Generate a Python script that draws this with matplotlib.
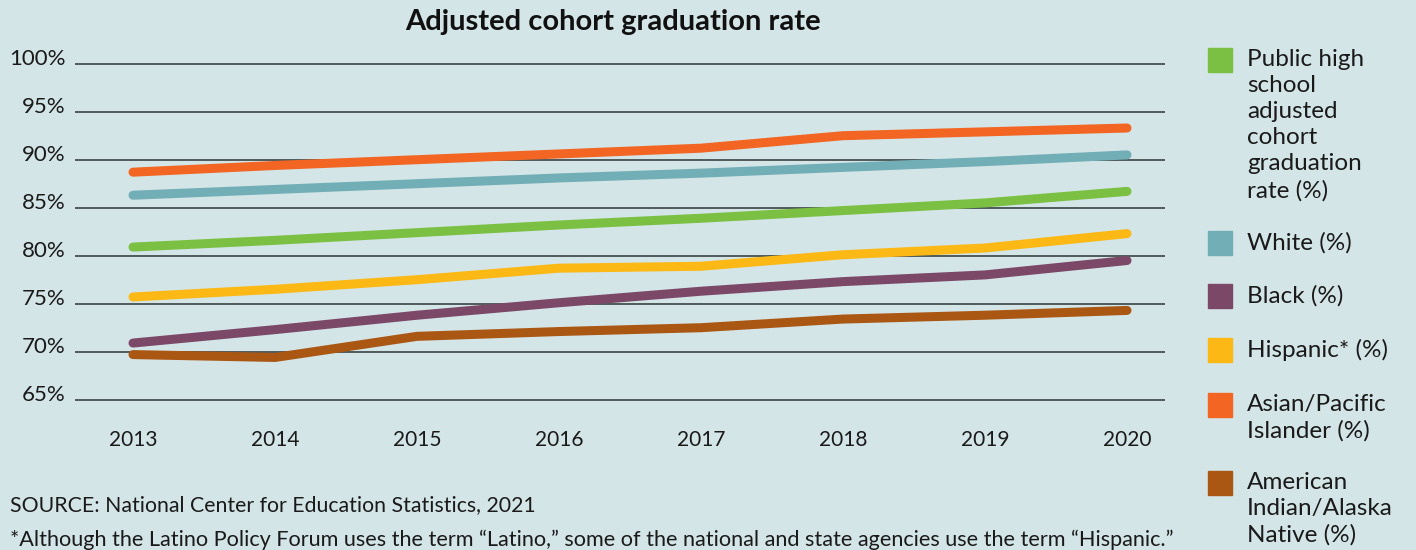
import matplotlib.pyplot as plt
from matplotlib.patches import Rectangle
from matplotlib.transforms import ScaledTranslation

plt.rcParams['font.family'] = ['Lato', 'DejaVu Sans']

years = [2013, 2014, 2015, 2016, 2017, 2018, 2019, 2020]
overall = [80.9, 81.6, 82.4, 83.2, 83.9, 84.7, 85.5, 86.7]
white = [86.3, 86.9, 87.5, 88.1, 88.6, 89.2, 89.8, 90.5]
black = [70.9, 72.3, 73.8, 75.1, 76.3, 77.3, 78.0, 79.5]
hispanic = [75.7, 76.5, 77.5, 78.7, 78.9, 80.1, 80.8, 82.3]
asian = [88.7, 89.4, 90.0, 90.6, 91.2, 92.5, 92.9, 93.3]
native = [69.7, 69.4, 71.6, 72.1, 72.5, 73.4, 73.8, 74.3]

series = [overall, white, black, hispanic, asian, native]
labels = ['Public high\nschool\nadjusted\ncohort\ngraduation\nrate (%)',
          'White (%)', 'Black (%)', 'Hispanic* (%)',
          'Asian/Pacific\nIslander (%)', 'American\nIndian/Alaska\nNative (%)']
colors = ['#7bc043', '#72aeb6', '#7b4868', '#fcb814', '#f26522', '#ab5714']
yticks = [65, 70, 75, 80, 85, 90, 95, 100]

bg = '#d4e5e7'
fig = plt.figure(figsize=(14.16, 5.5), dpi=100, facecolor=bg)
ax = fig.add_axes([75 / 1416, 1 - 404.5 / 550, 1090 / 1416, 345.6 / 550])
ax.set_facecolor(bg)

for vals, c in zip(series, colors):
    ax.plot(years, vals, color=c, lw=6.5, solid_capstyle='round',
            solid_joinstyle='round', zorder=3)

ax.set_ylim(64.5, 100.5)
ax.set_xlim(2013 - 58 / 142, 2020 + 38 / 142)
ax.set_yticks(yticks)
ax.set_yticklabels(['{}%'.format(v) for v in yticks])
ax.set_xticks(years)
ax.set_xticklabels([str(y) for y in years])
ax.grid(axis='y', color='#3a4242', lw=1.2, zorder=1)
ax.tick_params(length=0, labelsize=15, colors='#1a1a1a')
ax.tick_params(axis='y', pad=7, labelsize=16)
ax.tick_params(axis='x', pad=18)
for lab in ax.get_yticklabels():
    lab.set_transform(lab.get_transform() + ScaledTranslation(0, 7 / 100, fig.dpi_scale_trans))
for s in ax.spines.values():
    s.set_visible(False)

fig.text(613 / 1416, 1 - 22 / 550, 'Adjusted cohort graduation rate',
         ha='center', va='center', fontsize=21, fontweight='bold', color='#111111')

# legend
tops = [48, 231, 284, 338, 393, 471]
for lab, c, t in zip(labels, colors, tops):
    fig.patches.append(Rectangle((1208 / 1416, 1 - (t + 24) / 550), 24 / 1416, 24 / 550,
                                 transform=fig.transFigure, color=c))
    fig.text(1247 / 1416, 1 - (t + 1) / 550, lab, ha='left', va='top',
             fontsize=17.5, linespacing=1.3, color='#1a1a1a')

fig.text(10 / 1416, 1 - 505 / 550, 'SOURCE: National Center for Education Statistics, 2021',
         ha='left', va='center', fontsize=15.3, color='#1a1a1a')
fig.text(10 / 1416, 1 - 540 / 550,
         '*Although the Latino Policy Forum uses the term \u201cLatino,\u201d some of the national '
         'and state agencies use the term \u201cHispanic.\u201d',
         ha='left', va='center', fontsize=15.6, color='#1a1a1a')

fig.savefig('out.png', dpi=100, facecolor=bg)
